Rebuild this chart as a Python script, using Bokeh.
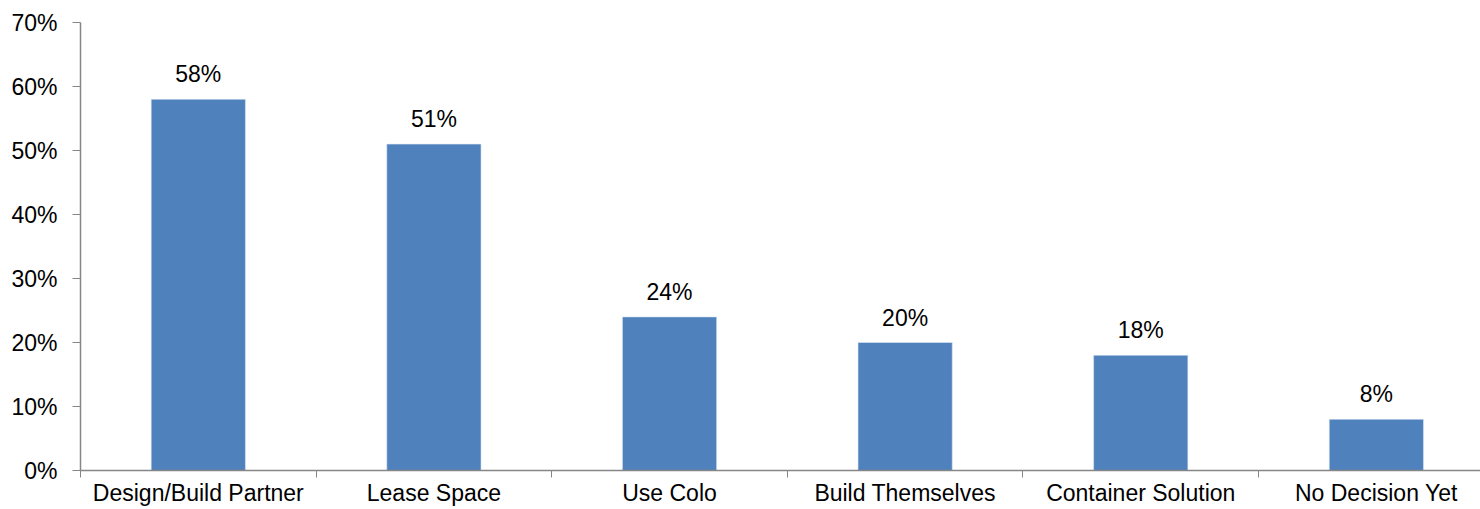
from bokeh.plotting import figure
from bokeh.models import ColumnDataSource, FixedTicker, Range1d, LabelSet
from bokeh.core.properties import value
from bokeh.embed import file_html
from bokeh.resources import INLINE

# Survey responses: how organisations plan to get new data-center capacity
categories = ["Design/Build Partner", "Lease Space", "Use Colo",
              "Build Themselves", "Container Solution", "No Decision Yet"]
shares = [58, 51, 24, 20, 18, 8]          # percent of respondents
y_ticks = [0, 10, 20, 30, 40, 50, 60, 70]

centers = [i + 0.5 for i in range(len(categories))]
labels = [f"{v}%" for v in shares]

src = ColumnDataSource(data=dict(x=centers, top=shares, label=labels))

FONT = "Liberation Sans"
FONT_SIZE = "23px"
AXIS_GREY = "#868686"
BAR_BLUE = "#4F81BD"

p = figure(width=1480, height=509, output_backend="svg", toolbar_location=None,
           x_range=Range1d(0, 5.942), y_range=Range1d(0, 70),
           min_border_left=80, min_border_right=0, min_border_top=22,
           min_border_bottom=39)
p.outline_line_color = None
p.grid.grid_line_color = None
p.background_fill_color = "white"
p.border_fill_color = "white"

p.vbar(x="x", top="top", width=0.4, source=src, fill_color=BAR_BLUE,
       line_color="#DCE6F2", line_width=0.6)

# value labels above the bars
p.add_layout(LabelSet(x="x", y="top", text="label", source=src,
                      text_align="center", text_baseline="alphabetic",
                      y_offset=17, text_font=value(FONT),
                      text_font_size=value(FONT_SIZE),
                      text_color=value("black")))

# Category axis: names under each bar, tick marks between the bars
xa = p.xaxis[0]
xa.ticker = FixedTicker(ticks=centers,
                        minor_ticks=list(range(len(categories) + 1)))
xa.major_label_overrides = {c: n for c, n in zip(centers, categories)}
xa.major_tick_line_color = None
xa.major_tick_out = 0
xa.major_tick_in = 0
xa.minor_tick_line_color = AXIS_GREY
xa.minor_tick_out = 7
xa.minor_tick_in = 0
xa.axis_line_color = AXIS_GREY
xa.axis_line_width = 1.5
xa.major_label_standoff = 2
xa.major_label_text_font = FONT
xa.major_label_text_font_size = FONT_SIZE
xa.major_label_text_color = "black"

# Percentage axis
ya = p.yaxis[0]
ya.ticker = FixedTicker(ticks=y_ticks)
ya.major_label_overrides = {t: f"{t}%" for t in y_ticks}
ya.minor_tick_line_color = None
ya.major_tick_line_color = AXIS_GREY
ya.major_tick_out = 8
ya.major_tick_in = 0
ya.axis_line_color = AXIS_GREY
ya.axis_line_width = 1.5
ya.major_label_standoff = 15
ya.major_label_text_font = FONT
ya.major_label_text_font_size = FONT_SIZE
ya.major_label_text_color = "black"

open("out.html", "w").write(file_html(p, INLINE))
